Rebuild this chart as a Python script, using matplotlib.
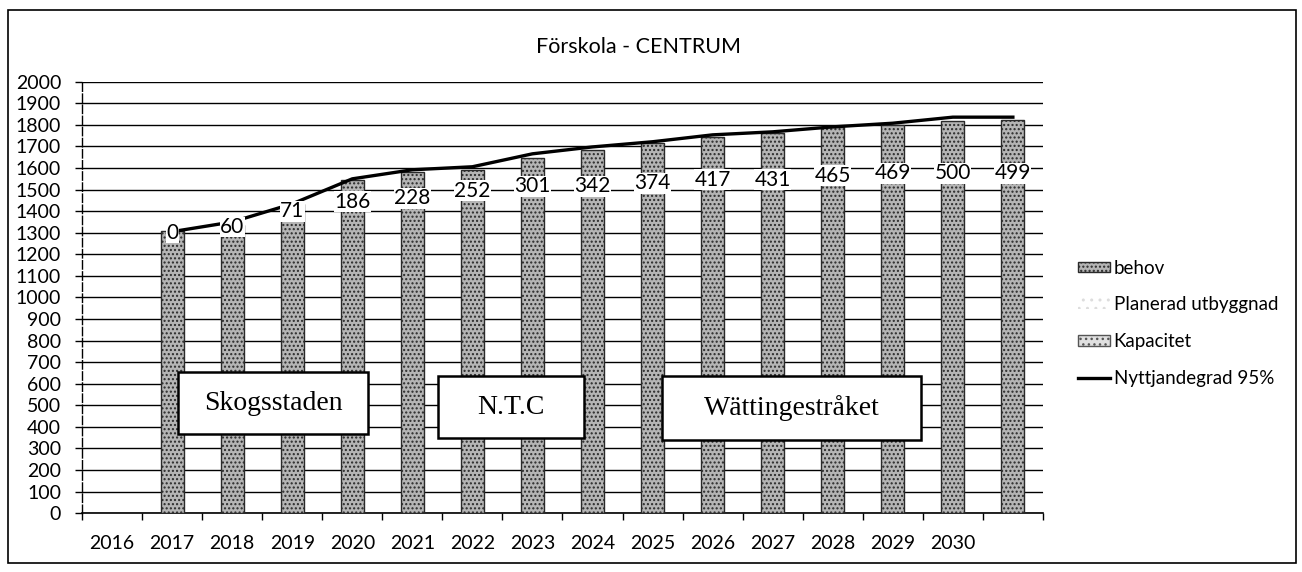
import numpy as np
import matplotlib.pyplot as plt
from matplotlib.patches import Rectangle, Patch
from matplotlib.lines import Line2D

years = ["2016", "2017", "2018", "2019", "2020", "2021", "2022", "2023",
         "2024", "2025", "2026", "2027", "2028", "2029", "2030"]

# bars sit one slot to the right of the year labels (as in the original sheet)
behov = [1310, 1335, 1435, 1545, 1582, 1592, 1647, 1684, 1717, 1745,
         1763, 1791, 1800, 1819, 1824]
nyttjandegrad = [1305, 1350, 1434, 1550, 1592, 1606, 1666, 1698, 1722, 1754,
                 1768, 1791, 1808, 1836, 1836]
planerad = [0, 60, 71, 186, 228, 252, 301, 342, 374, 417, 431, 465, 469, 500, 499]
label_level = [1300, 1327, 1400, 1443, 1460, 1495, 1515, 1515, 1530, 1545,
               1545, 1565, 1575, 1575, 1575]

areas = ["Skogsstaden", "N.T.C", "Wättingestråket"]

plt.rcParams["font.family"] = ["Lato", "DejaVu Sans"]

fig = plt.figure(figsize=(13.02, 5.72), dpi=100)
ax = fig.add_axes([0.063, 0.103, 0.738, 0.754])

slots = np.arange(1, len(behov) + 1)

ax.bar(slots, behov, width=0.38, color="#b5b5b5", edgecolor="#2a2a2a",
       hatch="....", linewidth=1.0, zorder=3)

ax.plot(slots, nyttjandegrad, color="black", linewidth=2.4, zorder=4)

for x, v, y in zip(slots, planerad, label_level):
    ax.text(x, y, str(v), ha="center", va="center", fontsize=15,
            color="black", zorder=5,
            bbox=dict(boxstyle="square,pad=0.02", facecolor="white",
                      edgecolor="none"))

ax.set_xlim(-0.5, 15.5)
ax.set_ylim(0, 2000)
ax.set_yticks(np.arange(0, 2001, 100))
ax.set_xticks(np.arange(-0.5, 15.6, 1))
ax.set_xticklabels([])
ax.set_xticks(np.arange(len(years)), minor=True)
ax.set_xticklabels(years, minor=True)
ax.tick_params(axis="x", which="major", length=5, width=1, direction="out")
ax.tick_params(axis="x", which="minor", length=0, pad=16, labelsize=14)
ax.tick_params(axis="y", length=5, width=1, labelsize=14, pad=10)

ax.grid(axis="y", color="black", linewidth=1.0, zorder=0)
for s in ["top", "right"]:
    ax.spines[s].set_visible(False)
ax.spines["left"].set_linestyle((0, (6, 2)))
ax.spines["left"].set_linewidth(1.0)
ax.spines["bottom"].set_linewidth(1.2)

fig.text(638 / 1302, 1 - 47 / 572, "Förskola - CENTRUM", ha="center",
         va="center", fontsize=15.5)

# area name boxes
box_specs = [(178, 372, 190, 62), (438, 376, 146, 62), (662, 376, 259, 64)]
for name, (bx, by, bw, bh) in zip(areas, box_specs):
    fx, fy = bx / 1302, 1 - (by + bh) / 572
    fig.patches.append(Rectangle((fx, fy), bw / 1302, bh / 572,
                                 transform=fig.transFigure, facecolor="white",
                                 edgecolor="black", linewidth=1.8, zorder=6))
    fig.text(fx + bw / 2604, fy + bh / 1144, name, ha="center", va="center",
             fontsize=20, family="Liberation Serif", zorder=7)

# legend
handles = [
    Patch(facecolor="#b5b5b5", edgecolor="#2a2a2a", hatch="....", label="behov"),
    Patch(facecolor="white", edgecolor="#dddddd", hatch="..", linewidth=0,
          label="Planerad utbyggnad"),
    Patch(facecolor="#e0e0e0", edgecolor="#555555", hatch="...",
          label="Kapacitet"),
    Line2D([0], [0], color="black", linewidth=2.4, label="Nyttjandegrad 95%"),
]
fig.legend(handles=handles, loc="center left", bbox_to_anchor=(0.815, 0.435),
           frameon=False, fontsize=13.5, handlelength=1.7, handleheight=0.5,
           handletextpad=0.2, labelspacing=1.05)

# outer chart frame
fig.patches.append(Rectangle((8 / 1302, 9 / 572), 1288 / 1302, 553 / 572,
                             transform=fig.transFigure, fill=False,
                             edgecolor="black", linewidth=1.2))

fig.savefig("out.png", dpi=100)
